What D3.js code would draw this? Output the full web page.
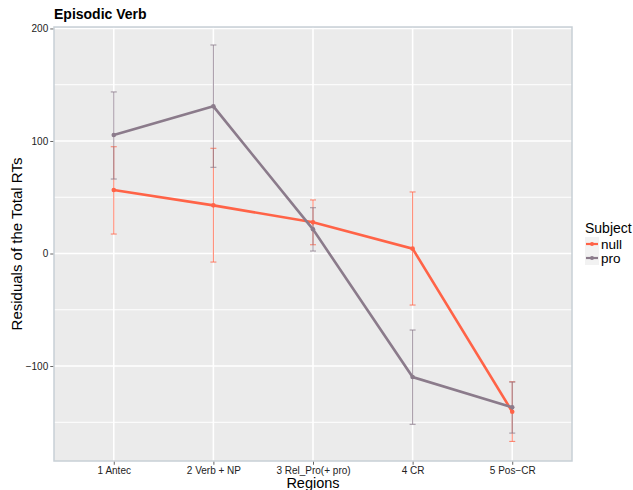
<!DOCTYPE html>
<html><head><meta charset="utf-8">
<script src="https://cdn.jsdelivr.net/npm/d3@7"></script>
<style>body{margin:0;background:#fff;} text{font-family:"Liberation Sans",Arial,sans-serif;}</style>
</head><body>
<svg id="c" width="633" height="490"></svg>
<script>
const regions = ["1 Antec","2 Verb + NP","3 Rel_Pro(+ pro)","4 CR","5 Pos\u2212CR"];
const seriesNames = ["null","pro"];
const nullMean = [56.4, 42.8, 27.7, 4.3, -140.6];
const nullHi   = [94.9, 93.5, 47.6, 54.7, -114.0];
const nullLo   = [17.3, -7.6, 7.8, -45.8, -167.0];
const proMean  = [105.3, 130.8, 21.5, -109.8, -136.7];
const proHi    = [143.6, 185.3, 40.7, -68.0, -114.2];
const proLo    = [66.2, 76.6, 2.2, -151.8, -159.6];
const yTicks = [-100, 0, 100, 200];
const yMinor = [-150, -50, 50, 150];
const colors = {null:"#FF6347", pro:"#8B7B8B"};

const series = [
  {name:"null", mean:nullMean, hi:nullHi, lo:nullLo},
  {name:"pro", mean:proMean, hi:proHi, lo:proLo}
];

const svg = d3.select("#c");
const L=54, R=572, T=27, B=461;
const x = d3.scalePoint().domain(regions).range([L,R]).padding(0.6);
const y = d3.scaleLinear().domain([-184.4, 201.3]).range([B,T]);

svg.append("rect").attr("x",L).attr("y",T).attr("width",R-L).attr("height",B-T).attr("fill","#EBEBEB");
const g = svg.append("g");
yMinor.forEach(v=>g.append("line").attr("x1",L).attr("x2",R).attr("y1",y(v)).attr("y2",y(v)).attr("stroke","#fff").attr("stroke-width",1));
yTicks.forEach(v=>g.append("line").attr("x1",L).attr("x2",R).attr("y1",y(v)).attr("y2",y(v)).attr("stroke","#fff").attr("stroke-width",1.6));
regions.forEach(r=>g.append("line").attr("x1",x(r)).attr("x2",x(r)).attr("y1",T).attr("y2",B).attr("stroke","#fff").attr("stroke-width",1.6));

// error bars
series.forEach(s=>{
  const c = colors[s.name];
  const eg = svg.append("g").attr("stroke",c).attr("stroke-opacity",0.75).attr("stroke-width",1.1);
  regions.forEach((r,i)=>{
    const cx = x(r);
    eg.append("line").attr("x1",cx).attr("x2",cx).attr("y1",y(s.hi[i])).attr("y2",y(s.lo[i]));
    eg.append("line").attr("x1",cx-3).attr("x2",cx+3).attr("y1",y(s.hi[i])).attr("y2",y(s.hi[i]));
    eg.append("line").attr("x1",cx-3).attr("x2",cx+3).attr("y1",y(s.lo[i])).attr("y2",y(s.lo[i]));
  });
});
// lines and points
series.forEach(s=>{
  const c = colors[s.name];
  const line = d3.line().x((d,i)=>x(regions[i])).y(d=>y(d));
  svg.append("path").attr("d",line(s.mean)).attr("fill","none").attr("stroke",c).attr("stroke-width",2.6);
  svg.append("g").selectAll("circle").data(s.mean).join("circle")
    .attr("cx",(d,i)=>x(regions[i])).attr("cy",d=>y(d)).attr("r",2.3).attr("fill",c);
});

// panel border
svg.append("rect").attr("x",L).attr("y",T).attr("width",R-L).attr("height",B-T).attr("fill","none").attr("stroke","#C8D0D6").attr("stroke-width",1.5);

// axes
const ya = svg.append("g").attr("transform",`translate(${L-0.75},0)`).call(d3.axisLeft(y).tickValues(yTicks).tickSize(3).tickPadding(2).tickFormat(d=>d<0?"\u2212"+Math.abs(d):d));
ya.select(".domain").remove();
ya.selectAll("line").attr("stroke","#666");
ya.selectAll("text").attr("font-size",10).attr("fill","#222").attr("font-family","Liberation Sans, Arial, sans-serif");
const xa = svg.append("g").attr("transform",`translate(0,${B+0.75})`).call(d3.axisBottom(x).tickSize(3).tickPadding(2.5));
xa.select(".domain").remove();
xa.selectAll("line").attr("stroke","#666");
xa.selectAll("text").attr("font-size",10).attr("fill","#222").attr("font-family","Liberation Sans, Arial, sans-serif");

svg.append("text").attr("x",L).attr("y",19).attr("font-size",14).attr("font-weight","bold").text("Episodic Verb");
svg.append("text").attr("x",(L+R)/2).attr("y",488).attr("text-anchor","middle").attr("font-size",14.5).text("Regions");
svg.append("text").attr("transform",`translate(22,${(T+B)/2}) rotate(-90)`).attr("text-anchor","middle").attr("font-size",15).text("Residuals of the Total RTs");

// legend
const lg = svg.append("g");
lg.append("text").attr("x",585).attr("y",233).attr("font-size",14).text("Subject");
seriesNames.forEach((n,i)=>{
  const yy = 244 + i*14;
  lg.append("rect").attr("x",585).attr("y",yy-7).attr("width",14).attr("height",14).attr("fill","#F2F2F2");
  lg.append("line").attr("x1",586).attr("x2",598).attr("y1",yy).attr("y2",yy).attr("stroke",colors[n]).attr("stroke-width",2.2);
  lg.append("circle").attr("cx",592).attr("cy",yy).attr("r",2).attr("fill",colors[n]);
  lg.append("text").attr("x",601).attr("y",yy+4.5).attr("font-size",13.5).text(n);
});
</script>
</body></html>
